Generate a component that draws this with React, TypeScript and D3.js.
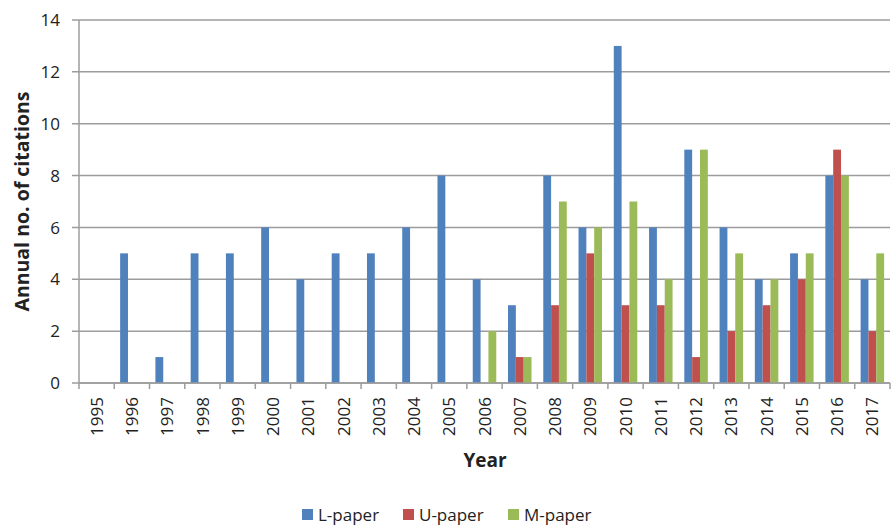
import React from "react";
import * as d3 from "d3";

const years = ["1995","1996","1997","1998","1999","2000","2001","2002","2003","2004","2005","2006","2007","2008","2009","2010","2011","2012","2013","2014","2015","2016","2017"];
const lPaper = [0,5,1,5,5,6,4,5,5,6,8,4,3,8,6,13,6,9,6,4,5,8,4];
const uPaper = [0,0,0,0,0,0,0,0,0,0,0,0,1,3,5,3,3,1,2,3,4,9,2];
const mPaper = [0,0,0,0,0,0,0,0,0,0,0,2,1,7,6,7,4,9,5,4,5,8,5];
const seriesNames = ["L-paper","U-paper","M-paper"];
const colors = ["#4F81BD","#C0504D","#9BBB59"];
const yTicks = [0,2,4,6,8,10,12,14];

export default function App() {
  const W = 893, H = 526;
  const left = 79, right = 890, top = 20, bottom = 383;
  const font = "'Open Sans', 'Noto Sans', sans-serif";
  const x = d3.scaleBand<string>().domain(years).range([left, right]).paddingInner(0).paddingOuter(0);
  const y = d3.scaleLinear().domain([0, 14]).range([bottom, top]);
  const series = [lPaper, uPaper, mPaper];
  const bw = x.bandwidth() / 4.5;
  const inner = d3.scaleBand<number>().domain([0,1,2]).range([0, bw * 3]);
  const grid = "#9C9C9C";
  const legendX = [302, 403, 508];
  return (
    <svg width={W} height={H} style={{ position: "absolute", left: 0, top: 0, background: "#fff" }}>
      {yTicks.map((t) => (
        <g key={t}>
          <line x1={72} x2={right} y1={y(t)} y2={y(t)} stroke={grid} strokeWidth={1.5} />
          <text x={60} y={y(t)} dy="0.36em" textAnchor="end" fontFamily={font} fontSize={17} fill="#222">{t}</text>
        </g>
      ))}
      {series.map((vals, si) =>
        vals.map((v, i) =>
          v > 0 ? (
            <rect key={si + "-" + i}
              x={(x(years[i]) as number) + x.bandwidth() * 0.5 - bw * 1.5 + (inner(si) as number)}
              y={y(v)} width={bw} height={y(0) - y(v)} fill={colors[si]} />
          ) : null
        )
      )}
      <line x1={left} x2={left} y1={top} y2={bottom} stroke={grid} strokeWidth={1.5} />
      <line x1={left} x2={right} y1={bottom} y2={bottom} stroke={grid} strokeWidth={1.5} />
      {years.map((yr) => (
        <line key={"t" + yr} x1={x(yr) as number} x2={x(yr) as number} y1={bottom} y2={bottom + 6} stroke={grid} strokeWidth={1.5} />
      ))}
      <line x1={right} x2={right} y1={bottom} y2={bottom + 6} stroke={grid} strokeWidth={1.5} />
      {years.map((yr) => {
        const cx = (x(yr) as number) + x.bandwidth() / 2;
        return (
          <text key={"l" + yr} transform={`translate(${cx},${bottom + 14}) rotate(-90)`} textAnchor="end" dy="0.36em"
            fontFamily={font} fontSize={17} fill="#222">{yr}</text>
        );
      })}
      <text x={485} y={467} textAnchor="middle" fontFamily={font} fontWeight="bold" fontSize={19} fill="#222">Year</text>
      <text transform={`translate(29,${(top + bottom) / 2}) rotate(-90)`} textAnchor="middle" fontFamily={font} fontWeight="bold" fontSize={19.5} fill="#222">Annual no. of citations</text>
      {seriesNames.map((n, i) => {
        const lx = legendX[i];
        return (
          <g key={n}>
            <rect x={lx} y={509} width={11} height={11} fill={colors[i]} />
            <text x={lx + 16} y={514.5} dy="0.36em" fontFamily={font} fontSize={17} fill="#222">{n}</text>
          </g>
        );
      })}
    </svg>
  );
}
